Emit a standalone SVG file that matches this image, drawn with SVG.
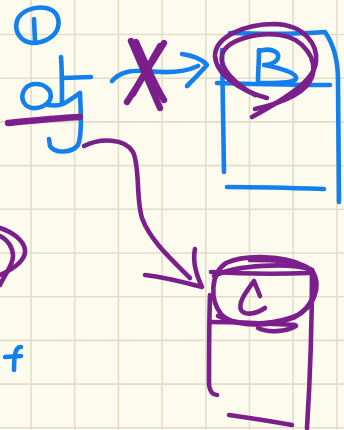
<svg xmlns="http://www.w3.org/2000/svg" width="344" height="430" viewBox="0 0 344 430">
  <style>
    .grid { stroke: #e2ddc9; stroke-width: 1.6; }
    .ink { fill: none; stroke-linecap: round; stroke-linejoin: round; }
    .blue { stroke: #1480ee; stroke-width: 4.6; }
    .purple { stroke: #7a1f8b; stroke-width: 4.6; }
    .thick { stroke-width: 6.4; }
  </style>

  <!-- paper -->
  <rect width="344" height="430" fill="#fdfbed"/>
  <g id="grid" class="grid">
    <line x1="31" y1="0" x2="31" y2="430"/>
    <line x1="74.7" y1="0" x2="74.7" y2="430"/>
    <line x1="118.4" y1="0" x2="118.4" y2="430"/>
    <line x1="162.1" y1="0" x2="162.1" y2="430"/>
    <line x1="205.8" y1="0" x2="205.8" y2="430"/>
    <line x1="249.5" y1="0" x2="249.5" y2="430"/>
    <line x1="293.2" y1="0" x2="293.2" y2="430"/>
    <line x1="336.9" y1="0" x2="336.9" y2="430"/>
    <line x1="0" y1="34.5" x2="344" y2="34.5"/>
    <line x1="0" y1="78.2" x2="344" y2="78.2"/>
    <line x1="0" y1="121.9" x2="344" y2="121.9"/>
    <line x1="0" y1="165.6" x2="344" y2="165.6"/>
    <line x1="0" y1="209.3" x2="344" y2="209.3"/>
    <line x1="0" y1="253" x2="344" y2="253"/>
    <line x1="0" y1="296.7" x2="344" y2="296.7"/>
    <line x1="0" y1="340.4" x2="344" y2="340.4"/>
    <line x1="0" y1="384.1" x2="344" y2="384.1"/>
    <line x1="0" y1="427.8" x2="344" y2="427.8"/>
  </g>

  <!-- step marker: circled 1 -->
  <g id="step-1" class="ink blue">
    <path d="M 33,43 C 20,42 14,31 17,21 C 20,11 34,6 46,8 C 57,10 61,20 57,30 C 53,38 43,43 33,43"/>
    <path d="M 34,19 L 35,41"/>
  </g>

  <!-- variable obj -->
  <g id="obj" class="ink">
    <g class="blue">
      <path d="M 47,88 C 42,83 30,82 25,89 C 20,96 22,106 32,108 C 40,109 47,105 50,100 C 52,95 50,90 47,88"/>
      <path d="M 48,105 C 55,106 63,105 68,101 C 73,98 77,95 80,93"/>
      <path d="M 61,57 C 62,70 62,90 62,103"/>
      <path d="M 63,78 L 91,77"/>
      <path d="M 80,93 C 81,115 82,135 78,145 C 72,153 55,154 50,146 L 49,139"/>
    </g>
    <path class="purple thick" d="M 8,123 C 30,121 55,118 80,117"/>
  </g>

  <!-- object B -->
  <g id="node-b" class="ink">
    <g class="blue">
      <path d="M 230,33 C 260,34 300,34 325,32 C 334,45 338,60 338,80 C 338,120 339,160 339,202"/>
      <path d="M 222,50 C 223,90 223,130 224,172"/>
      <path d="M 217,83 C 255,84 295,85 330,85"/>
      <path d="M 227,187 C 260,187 295,188 324,189"/>
      <path d="M 259,50 C 259,62 258,72 258,82"/>
      <path d="M 259,51 C 272,47 283,53 276,61 C 272,64 266,65 264,65 C 280,68 298,73 296,79 C 292,84 272,83 258,83"/>
    </g>
    <g class="purple">
      <path d="M 267,98 C 240,91 216,74 215,56 C 215,37 244,24 275,24 C 304,25 318,44 316,62 C 314,80 290,96 252,117"/>
      <path d="M 255,109 C 282,103 306,94 312,77 C 318,59 303,38 280,35 C 256,32 226,40 222,55 C 219,68 235,84 255,95"/>
    </g>
  </g>

  <!-- object C -->
  <g id="node-c" class="ink purple">
    <path d="M 211,272 C 245,274 280,274 309,273"/>
    <path d="M 210,295 C 209,325 209,360 209,385 C 210,392 213,395 217,395"/>
    <path d="M 312,270 C 312,320 310,380 307,428"/>
    <path d="M 211,322 C 240,322 270,324 295,325"/>
    <path d="M 229,415 C 250,418 270,421 292,425"/>
    <path d="M 260,296 L 254,281 C 246,292 238,302 241,310 C 245,316 256,314 265,308"/>
    <path d="M 302,265 C 285,256 245,254 226,263 C 210,274 210,300 221,314 C 234,328 270,327 295,317 C 315,306 319,285 311,270 C 301,260 270,260 250,260"/>
    <path d="M 214,276 C 236,265 290,262 312,270 C 322,286 315,310 290,318 C 265,326 236,325 218,316"/>
    <path d="M 258,328 C 268,333 286,332 296,326"/>
  </g>

  <!-- partial object at left edge -->
  <g id="node-left" class="ink purple">
    <path d="M 0,228 C 12,232 24,240 25,250 C 26,260 15,268 0,275"/>
    <path d="M 0,236 C 8,240 13,248 13,256 C 13,265 6,272 0,285"/>
  </g>

  <!-- variable f -->
  <g id="f" class="ink blue">
    <path d="M 14,370 C 14,362 14,356 16,351 C 17,348 19,347 21,347"/>
    <path d="M 5,357 L 21,356"/>
  </g>

  <!-- references -->
  <g id="connectors" class="ink">
    <g id="obj-to-b" class="blue">
      <path d="M 112,81 C 120,72 130,70 148,71 C 165,73 185,72 198,66"/>
      <path d="M 182,54 C 195,56 203,60 207,65 C 200,73 194,79 187,86"/>
    </g>
    <g id="obj-to-b-cancelled" class="purple thick">
      <path d="M 131,41 L 160,108"/>
      <path d="M 136,42 C 145,62 154,84 164,100"/>
      <path d="M 164,43 C 152,62 140,82 127,102"/>
      <path d="M 160,46 L 133,94"/>
    </g>
    <g id="obj-to-c" class="purple">
      <path d="M 84,146 C 100,138 125,138 133,152 C 140,166 136,200 142,218 C 150,240 170,258 190,278"/>
      <path d="M 195,249 C 193,258 195,272 202,287 C 190,284 170,278 145,275"/>
    </g>
  </g>
</svg>
